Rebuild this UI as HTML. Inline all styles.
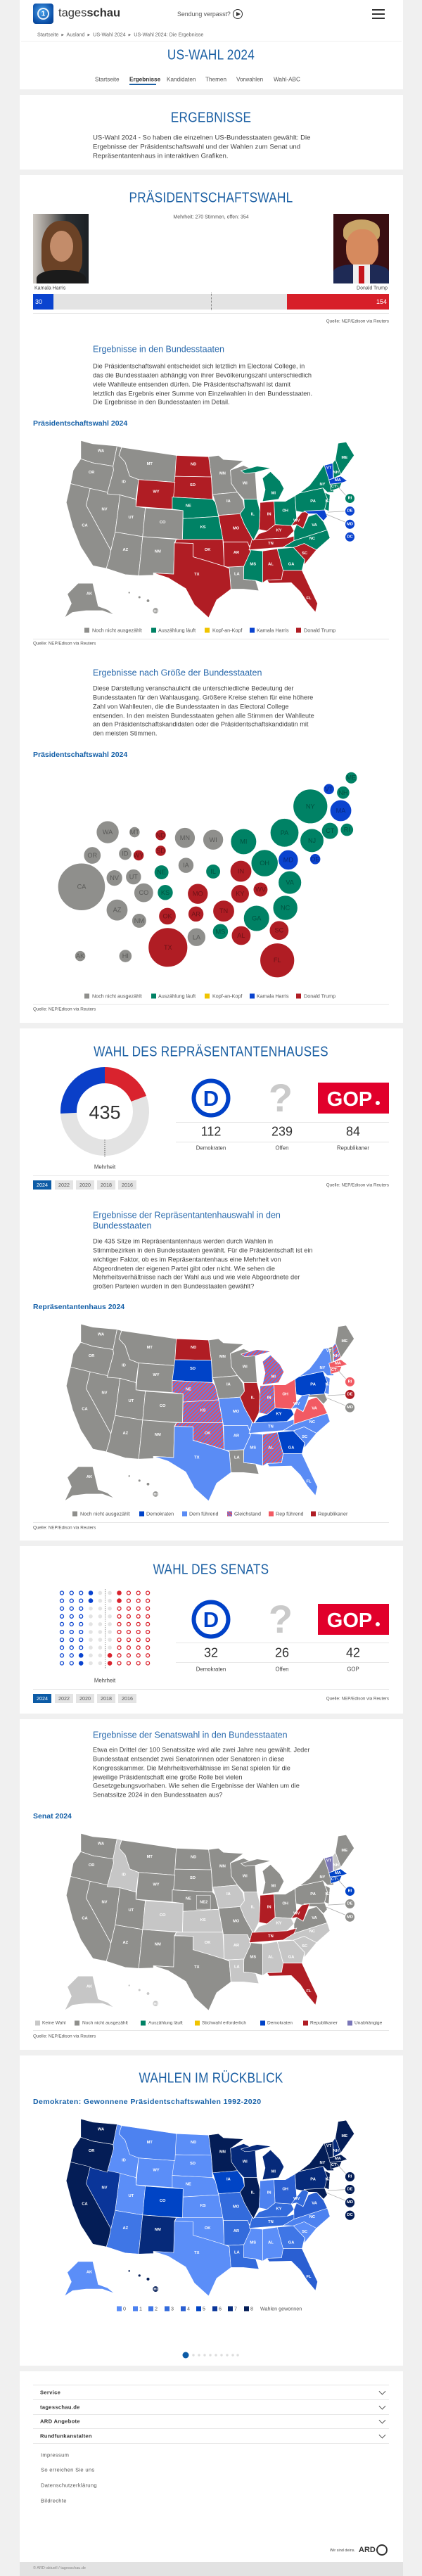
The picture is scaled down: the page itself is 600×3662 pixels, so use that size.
<!DOCTYPE html>
<html><head><meta charset="utf-8">
<style>
*{margin:0;padding:0;box-sizing:border-box}
body{width:600px;height:3662px;background:#f0f0f0;position:relative;font-family:"Liberation Sans",sans-serif;color:#3c3c3c;overflow:hidden}
.card{position:absolute;left:28px;width:545px;background:#fff}
.t{position:absolute;white-space:nowrap;transform:translateY(-50%)}
.c{position:absolute;white-space:nowrap;transform:translate(-50%,-50%)}
.h1{position:absolute;left:300px;white-space:nowrap;transform:translate(-50%,-50%) scaleX(.86);font-size:20px;color:#1b5fa3;letter-spacing:.3px}
.h2{position:absolute;left:132px;font-size:12.5px;color:#2a6aad;white-space:nowrap;line-height:15px;transform:translateY(-7.5px)}
.p{position:absolute;left:132px;font-size:9.2px;line-height:12.85px;white-space:nowrap;color:#444;transform:translateY(-6.4px)}
.sub{position:absolute;left:47px;font-size:10.5px;font-weight:bold;color:#1560a8;white-space:nowrap;transform:translateY(-50%)}
.q{position:absolute;font-size:6.3px;color:#555;white-space:nowrap;transform:translateY(-50%)}
.lg{position:absolute;font-size:7.2px;color:#555;white-space:nowrap;transform:translateY(-50%)}
.sq{position:absolute;width:7px;height:7px;transform:translateY(-50%)}
.hr{position:absolute;height:1px;background:#e6e6e6}
.yb{position:absolute;height:13px;width:26px;font-size:7.2px;line-height:13px;text-align:center;background:#e4e4e4;color:#555}
.yb.on{background:#0c5ba6;color:#fff}
.num{position:absolute;font-size:18px;color:#333;transform:translate(-50%,-50%)}
.nl{position:absolute;font-size:7.8px;color:#444;transform:translate(-50%,-50%);white-space:nowrap}
.fi{position:absolute;left:57px;font-size:7.6px;font-weight:bold;color:#333;transform:translateY(-50%);letter-spacing:.3px}
.fl{position:absolute;left:58px;font-size:7.6px;color:#555;transform:translateY(-50%);letter-spacing:.3px}
.chev{position:absolute;left:540px;width:7px;height:7px;border-right:1px solid #555;border-bottom:1px solid #555;transform:translateY(-70%) rotate(45deg)}
</style></head><body>

<div class="card" style="top:0;height:127px"></div>
<div class="card" style="top:135px;height:106px"></div>
<div class="card" style="top:249px;height:1205px"></div>
<div class="card" style="top:1462px;height:728px"></div>
<div class="card" style="top:2198px;height:238px"></div>
<div class="card" style="top:2444px;height:470px"></div>
<div class="card" style="top:2922px;height:441px"></div>
<div class="card" style="top:3371px;height:271px"></div>
<div class="card" style="top:3642px;height:20px;background:#e2e2e2"></div>

<!-- header -->
<div style="position:absolute;left:47px;top:5px;width:29px;height:29px;border-radius:4px;background:radial-gradient(circle at 45% 40%,#4aa3ec,#0b4ea6 70%,#083b86)"></div>
<div style="position:absolute;left:53px;top:11px;width:17px;height:17px;border-radius:50%;border:2px solid #fff;opacity:.9"></div>
<div class="c" style="left:61.5px;top:19.5px;font-size:10px;font-weight:bold;color:#fff">1</div>
<div class="t" style="left:83px;top:19px;font-size:16.5px;color:#333">tages<b>schau</b></div>
<div class="t" style="left:252px;top:19.5px;font-size:8.8px;color:#555">Sendung verpasst?</div>
<div style="position:absolute;left:331px;top:13px;width:14px;height:14px;border-radius:50%;border:1.2px solid #333"></div>
<div style="position:absolute;left:336px;top:16.5px;width:0;height:0;border-left:6px solid #333;border-top:3.5px solid transparent;border-bottom:3.5px solid transparent"></div>
<div style="position:absolute;left:529px;top:13px;width:18px;height:2px;background:#333"></div>
<div style="position:absolute;left:529px;top:19px;width:18px;height:2px;background:#333"></div>
<div style="position:absolute;left:529px;top:25px;width:18px;height:2px;background:#333"></div>
<div class="t" style="left:53px;top:49px;font-size:7.2px;color:#666">Startseite &nbsp;▸&nbsp; Ausland &nbsp;▸&nbsp; US-Wahl 2024 &nbsp;▸&nbsp; US-Wahl 2024: Die Ergebnisse</div>
<div class="hr" style="left:30px;width:541px;top:58px;background:#f0f0f0"></div>
<div class="h1" style="top:79px">US-WAHL 2024</div>
<div class="t" style="left:135px;top:113px;font-size:8.2px;color:#555">Startseite</div>
<div class="t" style="left:184px;top:113px;font-size:8.2px;color:#333;font-weight:bold">Ergebnisse</div>
<div class="t" style="left:237px;top:113px;font-size:8.2px;color:#555">Kandidaten</div>
<div class="t" style="left:292px;top:113px;font-size:8.2px;color:#555">Themen</div>
<div class="t" style="left:336px;top:113px;font-size:8.2px;color:#555">Vorwahlen</div>
<div class="t" style="left:389px;top:113px;font-size:8.2px;color:#555">Wahl-ABC</div>
<div style="position:absolute;left:184px;top:119px;width:38px;height:1.5px;background:#1b5fa3"></div>

<!-- ergebnisse -->
<div class="h1" style="top:168px">ERGEBNISSE</div>
<div class="p" style="top:197px;font-size:9.6px">US-Wahl 2024 - So haben die einzelnen US-Bundesstaaten gewählt: Die<br>Ergebnisse der Präsidentschaftswahl und der Wahlen zum Senat und<br>Repräsentantenhaus in interaktiven Grafiken.</div>

<!-- president -->
<div class="h1" style="top:282px">PRÄSIDENTSCHAFTSWAHL</div>
<div class="c" style="left:300px;top:309px;font-size:7px;color:#555">Mehrheit: 270 Stimmen, offen: 354</div>
<div style="position:absolute;left:47px;top:304px;width:79px;height:99px;background:linear-gradient(90deg,#cfcac4 0%,#8a8580 30%,#2a2f33 60%,#1c2024 100%);overflow:hidden">
 <div style="position:absolute;left:12px;top:10px;width:58px;height:80px;border-radius:45% 45% 30% 30%;background:#6b4226"></div>
 <div style="position:absolute;left:24px;top:24px;width:33px;height:44px;border-radius:50%;background:#c38c6a"></div>
 <div style="position:absolute;left:5px;top:80px;width:70px;height:30px;border-radius:40% 40% 0 0;background:#1b1b1b"></div>
</div>
<div style="position:absolute;left:474px;top:304px;width:79px;height:99px;background:#3a0f12;overflow:hidden">
 <div style="position:absolute;left:14px;top:8px;width:52px;height:32px;border-radius:50% 50% 30% 30%;background:#c9a467"></div>
 <div style="position:absolute;left:18px;top:22px;width:46px;height:54px;border-radius:45%;background:#d68a5e"></div>
 <div style="position:absolute;left:0;top:72px;width:79px;height:30px;border-radius:35% 35% 0 0;background:#1e2a55"></div>
 <div style="position:absolute;left:28px;top:72px;width:24px;height:30px;background:#eee"></div>
 <div style="position:absolute;left:36px;top:74px;width:8px;height:26px;background:#c4161c"></div>
</div>
<div class="t" style="left:49px;top:410px;font-size:7px;color:#444">Kamala Harris</div>
<div class="t" style="right:49px;top:410px;font-size:7px;color:#444">Donald Trump</div>
<div style="position:absolute;left:47px;top:418px;width:506px;height:22px;background:#e3e3e3"></div>
<div style="position:absolute;left:47px;top:418px;width:29px;height:22px;background:#0a43cf"></div>
<div style="position:absolute;left:408px;top:418px;width:145px;height:22px;background:#d71f29"></div>
<div class="t" style="left:50px;top:429px;font-size:9px;color:#fff">30</div>
<div class="t" style="right:50px;top:429px;font-size:9px;color:#fff">154</div>
<div style="position:absolute;left:299.5px;top:416px;height:25px;border-left:1px dotted #777"></div>
<div class="hr" style="left:47px;width:506px;top:445px"></div>
<div class="q" style="right:47px;top:457px">Quelle: NEP/Edison via Reuters</div>

<div class="h2" style="top:497px">Ergebnisse in den Bundesstaaten</div>
<div class="p" style="top:521px">Die Präsidentschaftswahl entscheidet sich letztlich im Electoral College, in<br>das die Bundesstaaten abhängig von ihrer Bevölkerungszahl unterschiedlich<br>viele Wahlleute entsenden dürfen. Die Präsidentschaftswahl ist damit<br>letztlich das Ergebnis einer Summe von Einzelwahlen in den Bundesstaaten.<br>Die Ergebnisse in den Bundesstaaten im Detail.</div>
<div class="sub" style="top:602px">Präsidentschaftswahl 2024</div>

<div class="sq" style="left:120px;top:896px;background:#8f8f8c"></div><div class="lg" style="left:131px;top:896px">Noch nicht ausgezählt</div>
<div class="sq" style="left:215px;top:896px;background:#008265"></div><div class="lg" style="left:225px;top:896px">Auszählung läuft</div>
<div class="sq" style="left:291px;top:896px;background:#f0c400"></div><div class="lg" style="left:302px;top:896px">Kopf-an-Kopf</div>
<div class="sq" style="left:355px;top:896px;background:#0a43cf"></div><div class="lg" style="left:365px;top:896px">Kamala Harris</div>
<div class="sq" style="left:421px;top:896px;background:#b01d24"></div><div class="lg" style="left:432px;top:896px">Donald Trump</div>
<div class="hr" style="left:47px;width:506px;top:908px"></div>
<div class="q" style="left:47px;top:915px">Quelle: NEP/Edison via Reuters</div>

<div class="h2" style="top:957px">Ergebnisse nach Größe der Bundesstaaten</div>
<div class="p" style="top:979px">Diese Darstellung veranschaulicht die unterschiedliche Bedeutung der<br>Bundesstaaten für den Wahlausgang. Größere Kreise stehen für eine höhere<br>Zahl von Wahlleuten, die die Bundesstaaten in das Electoral College<br>entsenden. In den meisten Bundesstaaten gehen alle Stimmen der Wahlleute<br>an den Präsidentschaftskandidaten oder die Präsidentschaftskandidatin mit<br>den meisten Stimmen.</div>
<div class="sub" style="top:1073px">Präsidentschaftswahl 2024</div>

<div class="sq" style="left:120px;top:1416px;background:#8f8f8c"></div><div class="lg" style="left:131px;top:1416px">Noch nicht ausgezählt</div>
<div class="sq" style="left:215px;top:1416px;background:#008265"></div><div class="lg" style="left:225px;top:1416px">Auszählung läuft</div>
<div class="sq" style="left:291px;top:1416px;background:#f0c400"></div><div class="lg" style="left:302px;top:1416px">Kopf-an-Kopf</div>
<div class="sq" style="left:355px;top:1416px;background:#0a43cf"></div><div class="lg" style="left:365px;top:1416px">Kamala Harris</div>
<div class="sq" style="left:421px;top:1416px;background:#b01d24"></div><div class="lg" style="left:432px;top:1416px">Donald Trump</div>
<div class="hr" style="left:47px;width:506px;top:1427px"></div>
<div class="q" style="left:47px;top:1435px">Quelle: NEP/Edison via Reuters</div>

<!-- house -->
<div class="h1" style="top:1496px">WAHL DES REPRÄSENTANTENHAUSES</div>
<div class="c" style="left:149px;top:1582px;font-size:27px;color:#333">435</div>
<div class="hr" style="left:250px;width:303px;top:1595px"></div>
<div class="hr" style="left:250px;width:303px;top:1623px"></div>
<div class="num" style="left:300px;top:1609px">112</div>
<div class="num" style="left:401px;top:1609px">239</div>
<div class="num" style="left:502px;top:1609px">84</div>
<div class="nl" style="left:300px;top:1632px">Demokraten</div>
<div class="nl" style="left:401px;top:1632px">Offen</div>
<div class="nl" style="left:502px;top:1632px">Republikaner</div>
<div class="nl" style="left:149px;top:1659px">Mehrheit</div>
<div class="hr" style="left:47px;width:506px;top:1671px"></div>
<div class="yb on" style="left:47px;top:1678px">2024</div><div class="yb" style="left:78px;top:1678px">2022</div><div class="yb" style="left:108px;top:1678px">2020</div><div class="yb" style="left:138px;top:1678px">2018</div><div class="yb" style="left:168px;top:1678px">2016</div>
<div class="q" style="right:47px;top:1685px">Quelle: NEP/Edison via Reuters</div>

<div class="h2" style="top:1728px">Ergebnisse der Repräsentantenhauswahl in den<br>Bundesstaaten</div>
<div class="p" style="top:1765px">Die 435 Sitze im Repräsentantenhaus werden durch Wahlen in<br>Stimmbezirken in den Bundesstaaten gewählt. Für die Präsidentschaft ist ein<br>wichtiger Faktor, ob es im Repräsentantenhaus eine Mehrheit von<br>Abgeordneten der eigenen Partei gibt oder nicht. Wie sehen die<br>Mehrheitsverhältnisse nach der Wahl aus und wie viele Abgeordnete der<br>großen Parteien wurden in den Bundesstaaten gewählt?</div>
<div class="sub" style="top:1858px">Repräsentantenhaus 2024</div>
<div class="sq" style="left:103px;top:2152px;background:#8f8f8c"></div><div class="lg" style="left:114px;top:2152px">Noch nicht ausgezählt</div>
<div class="sq" style="left:198px;top:2152px;background:#0043c8"></div><div class="lg" style="left:208px;top:2152px">Demokraten</div>
<div class="sq" style="left:259px;top:2152px;background:#5a8cf5"></div><div class="lg" style="left:269px;top:2152px">Dem führend</div>
<div class="sq" style="left:323px;top:2152px;background:repeating-linear-gradient(45deg,#e8505a 0 1.5px,#5a7ff0 1.5px 3px)"></div><div class="lg" style="left:333px;top:2152px">Gleichstand</div>
<div class="sq" style="left:382px;top:2152px;background:#f25a63"></div><div class="lg" style="left:392px;top:2152px">Rep führend</div>
<div class="sq" style="left:442px;top:2152px;background:#b01d24"></div><div class="lg" style="left:452px;top:2152px">Republikaner</div>
<div class="hr" style="left:47px;width:506px;top:2164px"></div>
<div class="q" style="left:47px;top:2172px">Quelle: NEP/Edison via Reuters</div>

<!-- senate -->
<div class="h1" style="top:2232px">WAHL DES SENATS</div>
<div class="hr" style="left:250px;width:303px;top:2335px"></div>
<div class="hr" style="left:250px;width:303px;top:2363px"></div>
<div class="num" style="left:300px;top:2350px">32</div>
<div class="num" style="left:401px;top:2350px">26</div>
<div class="num" style="left:502px;top:2350px">42</div>
<div class="nl" style="left:300px;top:2373px">Demokraten</div>
<div class="nl" style="left:401px;top:2373px">Offen</div>
<div class="nl" style="left:502px;top:2373px">GOP</div>
<div class="nl" style="left:149px;top:2389px">Mehrheit</div>
<div class="hr" style="left:47px;width:506px;top:2401px"></div>
<div class="yb on" style="left:47px;top:2408px">2024</div><div class="yb" style="left:78px;top:2408px">2022</div><div class="yb" style="left:108px;top:2408px">2020</div><div class="yb" style="left:138px;top:2408px">2018</div><div class="yb" style="left:168px;top:2408px">2016</div>
<div class="q" style="right:47px;top:2415px">Quelle: NEP/Edison via Reuters</div>

<div class="h2" style="top:2467px">Ergebnisse der Senatswahl in den Bundesstaaten</div>
<div class="p" style="top:2488px">Etwa ein Drittel der 100 Senatssitze wird alle zwei Jahre neu gewählt. Jeder<br>Bundesstaat entsendet zwei Senatorinnen oder Senatoren in diese<br>Kongresskammer. Die Mehrheitsverhältnisse im Senat spielen für die<br>jeweilige Präsidentschaft eine große Rolle bei vielen<br>Gesetzgebungsvorhaben. Wie sehen die Ergebnisse der Wahlen um die<br>Senatssitze 2024 in den Bundesstaaten aus?</div>
<div class="sub" style="top:2582px">Senat 2024</div>
<div class="sq" style="left:50px;top:2876px;background:#c8c8c8"></div><div class="lg" style="left:60px;top:2876px;font-size:6.6px">Keine Wahl</div>
<div class="sq" style="left:106px;top:2876px;background:#8f8f8c"></div><div class="lg" style="left:117px;top:2876px;font-size:6.6px">Noch nicht ausgezählt</div>
<div class="sq" style="left:200px;top:2876px;background:#008265"></div><div class="lg" style="left:211px;top:2876px;font-size:6.6px">Auszählung läuft</div>
<div class="sq" style="left:277px;top:2876px;background:#f0c400"></div><div class="lg" style="left:287px;top:2876px;font-size:6.6px">Stichwahl erforderlich</div>
<div class="sq" style="left:370px;top:2876px;background:#0043c8"></div><div class="lg" style="left:380px;top:2876px;font-size:6.6px">Demokraten</div>
<div class="sq" style="left:431px;top:2876px;background:#b01d24"></div><div class="lg" style="left:441px;top:2876px;font-size:6.6px">Republikaner</div>
<div class="sq" style="left:494px;top:2876px;background:#7a76b8"></div><div class="lg" style="left:504px;top:2876px;font-size:6.6px">Unabhängige</div>
<div class="hr" style="left:47px;width:506px;top:2886px"></div>
<div class="q" style="left:47px;top:2895px">Quelle: NEP/Edison via Reuters</div>

<!-- retro -->
<div class="h1" style="top:2955px">WAHLEN IM RÜCKBLICK</div>
<div class="sub" style="top:2988px;letter-spacing:.4px">Demokraten: Gewonnene Präsidentschaftswahlen 1992-2020</div>
<div class="sq" style="left:166px;top:3282px;background:#5b8ef8"></div><div class="lg" style="left:175px;top:3282px">0</div>
<div class="sq" style="left:189px;top:3282px;background:#4d82f0"></div><div class="lg" style="left:198px;top:3282px">1</div>
<div class="sq" style="left:211px;top:3282px;background:#3f76e6"></div><div class="lg" style="left:220px;top:3282px">2</div>
<div class="sq" style="left:234px;top:3282px;background:#336bdc"></div><div class="lg" style="left:243px;top:3282px">3</div>
<div class="sq" style="left:257px;top:3282px;background:#2a5fd2"></div><div class="lg" style="left:266px;top:3282px">4</div>
<div class="sq" style="left:279px;top:3282px;background:#0044c5"></div><div class="lg" style="left:288px;top:3282px">5</div>
<div class="sq" style="left:302px;top:3282px;background:#0a3599"></div><div class="lg" style="left:311px;top:3282px">6</div>
<div class="sq" style="left:324px;top:3282px;background:#062a7a"></div><div class="lg" style="left:333px;top:3282px">7</div>
<div class="sq" style="left:347px;top:3282px;background:#041d56"></div><div class="lg" style="left:356px;top:3282px">8</div>
<div class="lg" style="left:370px;top:3282px">Wahlen gewonnen</div>

<!-- footer -->
<div class="hr" style="left:47px;width:506px;top:3390px"></div>
<div class="hr" style="left:47px;width:506px;top:3411px"></div>
<div class="hr" style="left:47px;width:506px;top:3432px"></div>
<div class="hr" style="left:47px;width:506px;top:3452px"></div>
<div class="hr" style="left:47px;width:506px;top:3473px"></div>
<div class="fi" style="top:3401px">Service</div><div class="chev" style="top:3401px"></div>
<div class="fi" style="top:3422px">tagesschau.de</div><div class="chev" style="top:3422px"></div>
<div class="fi" style="top:3442px">ARD Angebote</div><div class="chev" style="top:3442px"></div>
<div class="fi" style="top:3463px">Rundfunkanstalten</div><div class="chev" style="top:3463px"></div>
<div class="fl" style="top:3490px">Impressum</div>
<div class="fl" style="top:3511px">So erreichen Sie uns</div>
<div class="fl" style="top:3533px">Datenschutzerklärung</div>
<div class="fl" style="top:3555px">Bildrechte</div>
<div class="t" style="left:469px;top:3626px;font-size:5.5px;color:#444">Wir sind deins.</div>
<div class="t" style="left:510px;top:3625px;font-size:11px;font-weight:bold;color:#333">ARD</div>
<div style="position:absolute;left:535px;top:3617px;width:16px;height:16px;border-radius:50%;border:2px solid #333"></div>
<div class="t" style="left:47px;top:3651px;font-size:5.5px;color:#888">© ARD-aktuell / tagesschau.de</div>

<svg width="600" height="3662" style="position:absolute;left:0;top:0" xmlns="http://www.w3.org/2000/svg" xmlns:xlink="http://www.w3.org/1999/xlink">
<defs>
<pattern id="hatch" patternUnits="userSpaceOnUse" width="10" height="10" patternTransform="rotate(45)">
<rect width="10" height="10" fill="#5a7ff0"/><rect width="5" height="10" fill="#e8505a"/></pattern>
<polygon id="WA" points="300,330 345,342 435,350 420,425 345,413 300,398"/>
<polygon id="OR" points="300,398 345,413 420,425 422,440 398,528 262,490 272,440"/>
<polygon id="CA" points="262,490 335,508 320,570 412,738 405,772 395,805 345,795 300,725 270,650 246,560"/>
<polygon id="NV" points="335,508 446,532 428,670 412,738 320,570"/>
<polygon id="ID" points="435,350 452,355 442,385 465,410 482,462 515,475 505,548 446,532 398,528 422,440 420,425"/>
<polygon id="MT" points="452,355 655,385 650,485 515,475 482,462 465,410 442,385"/>
<polygon id="WY" points="515,475 650,485 640,585 505,575"/>
<polygon id="UT" points="446,532 505,548 505,575 540,580 530,687 428,670"/>
<polygon id="CO" points="540,580 680,590 678,697 530,687"/>
<polygon id="AZ" points="428,670 530,687 515,832 465,828 395,805 405,772 412,738"/>
<polygon id="NM" points="530,687 655,697 648,710 645,826 570,822 570,830 515,832"/>
<polygon id="ND" points="655,385 775,390 785,465 650,463"/>
<polygon id="SD" points="650,463 785,465 790,548 640,540"/>
<polygon id="NE" points="640,540 790,548 800,560 812,612 680,620 680,590 640,585"/>
<polygon id="KS" points="680,620 812,612 828,697 678,697"/>
<polygon id="OK" points="655,697 828,697 833,797 772,778 717,762 717,712 650,710"/>
<polygon id="TX" points="648,710 717,712 717,762 772,778 833,797 852,805 858,882 805,922 775,988 722,940 690,880 625,840 570,822 645,826"/>
<polygon id="MN" points="775,390 812,385 830,400 905,405 856,440 860,490 882,522 790,530 785,465"/>
<polygon id="IA" points="790,530 882,522 902,550 908,580 892,602 812,608 800,560"/>
<polygon id="MO" points="812,608 892,602 908,642 935,690 942,716 922,722 920,707 830,707 828,697"/>
<polygon id="AR" points="830,707 920,707 932,740 906,797 846,800 833,797"/>
<polygon id="LA" points="846,800 906,797 905,845 950,850 962,888 905,882 858,882 852,805"/>
<polygon id="WI" points="856,440 905,422 948,442 955,548 906,548 882,522 860,490"/>
<polygon id="IL" points="906,548 955,548 966,592 962,660 942,700 935,690 908,642 892,602 908,580"/>
<g id="MI"><polygon points="975,470 1005,445 1040,480 1055,508 1035,548 975,556 985,512"/><polygon points="895,442 955,425 1008,432 950,448 910,452"/></g>
<polygon id="IN" points="966,560 1018,556 1022,642 992,666 962,660 966,592"/>
<polygon id="OH" points="1018,556 1060,556 1096,535 1102,620 1082,646 1022,642"/>
<polygon id="KY" points="962,676 992,666 1022,642 1082,646 1092,666 1066,692 945,698"/>
<polygon id="TN" points="936,698 1066,692 1102,682 1092,702 1052,726 926,736"/>
<polygon id="MS" points="926,736 976,740 976,858 950,850 905,845 906,797 932,740"/>
<polygon id="AL" points="976,740 1030,732 1052,812 1046,846 992,848 976,858"/>
<polygon id="GA" points="1030,732 1090,727 1132,772 1122,812 1052,812"/>
<polygon id="FL" points="992,848 1046,846 1052,812 1122,812 1150,872 1180,935 1172,968 1142,932 1116,892 1082,858 1000,860"/>
<polygon id="SC" points="1090,727 1130,712 1176,736 1130,792 1132,772"/>
<polygon id="NC" points="1052,726 1092,702 1216,662 1226,692 1176,736 1130,712 1090,727"/>
<polygon id="VA" points="1092,666 1102,642 1126,656 1146,612 1176,602 1202,632 1216,662 1092,702"/>
<polygon id="WV" points="1082,646 1102,620 1122,596 1150,592 1126,656 1102,642"/>
<polygon id="PA" points="1096,535 1112,525 1200,506 1216,546 1206,590 1122,596 1100,592"/>
<polygon id="NY" points="1112,525 1150,496 1176,462 1202,422 1222,420 1236,500 1240,522 1216,522 1200,506"/>
<polygon id="NJ" points="1206,522 1226,532 1222,592 1206,586 1216,546"/>
<polygon id="MD" points="1130,592 1206,588 1216,612 1202,628 1176,602 1146,602"/>
<polygon id="VT" points="1205,422 1236,414 1238,470 1222,476"/>
<polygon id="NH" points="1236,414 1246,400 1266,456 1240,470"/>
<polygon id="ME" points="1246,400 1256,340 1286,335 1316,385 1266,456"/>
<polygon id="MA" points="1222,476 1266,462 1290,480 1270,487 1226,492"/>
<polygon id="CT" points="1226,492 1270,487 1262,506 1230,516"/>
<polygon id="AK" points="290,860 345,860 365,945 400,958 425,978 380,962 320,962 270,968 240,988 265,935 250,900"/>
<g id="HI"><circle cx="480" cy="895" r="4"/><circle cx="518" cy="912" r="5"/><circle cx="550" cy="925" r="6"/><circle cx="578" cy="962" r="11"/></g>
<g id="lines" stroke="#aaa" stroke-width="2" fill="none"><line x1="1250" y1="495" x2="1290" y2="540"/><line x1="1218" y1="596" x2="1290" y2="592"/><line x1="1212" y1="604" x2="1290" y2="636"/></g>
<g id="lbl" font-family="Liberation Sans,sans-serif" font-size="15" font-weight="bold" fill="#fff" text-anchor="middle" dominant-baseline="central" stroke="none">
<text x="375" y="370">WA</text><text x="340" y="450">OR</text><text x="315" y="647">CA</text><text x="388" y="587">NV</text><text x="460" y="485">ID</text><text x="556" y="418">MT</text><text x="580" y="521">WY</text><text x="487" y="617">UT</text><text x="604" y="635">CO</text><text x="466" y="737">AZ</text><text x="586" y="743">NM</text><text x="719" y="419">ND</text><text x="716" y="497">SD</text><text x="700" y="574">NE</text><text x="754" y="653">KS</text><text x="771" y="737">OK</text><text x="731" y="828">TX</text><text x="827" y="453">MN</text><text x="849" y="556">IA</text><text x="877" y="657">MO</text><text x="878" y="747">AR</text><text x="880" y="827">LA</text><text x="910" y="490">WI</text><text x="939" y="605">IL</text><text x="1016" y="527">MI</text><text x="1000" y="605">IN</text><text x="1060" y="592">OH</text><text x="1036" y="665">KY</text><text x="1006" y="713">TN</text><text x="940" y="791">MS</text><text x="1006" y="791">AL</text><text x="1082" y="791">GA</text><text x="1147" y="917">FL</text><text x="1132" y="750">SC</text><text x="1160" y="695">NC</text><text x="1168" y="645">VA</text><text x="1102" y="628">WV</text><text x="1163" y="556">PA</text><text x="1198" y="494">NY</text><text x="1218" y="556">NJ</text><text x="1222" y="432">VT</text><text x="1248" y="450">NH</text><text x="1280" y="395">ME</text><text x="1255" y="478">MA</text><text x="1240" y="502">CT</text><text x="332" y="900">AK</text><text x="578" y="965">HI</text>
</g>
</defs>

<!-- map 1 -->
<g transform="translate(0,500) scale(0.3827)" stroke="#fff" stroke-width="2">
<g fill="#8f8f8c"><use xlink:href="#WA"/><use xlink:href="#OR"/><use xlink:href="#CA"/><use xlink:href="#NV"/><use xlink:href="#ID"/><use xlink:href="#MT"/><use xlink:href="#UT"/><use xlink:href="#CO"/><use xlink:href="#AZ"/><use xlink:href="#NM"/><use xlink:href="#MN"/><use xlink:href="#IA"/><use xlink:href="#WI"/><use xlink:href="#LA"/><use xlink:href="#AK"/><use xlink:href="#HI"/></g>
<g fill="#b01d24"><use xlink:href="#ND"/><use xlink:href="#SD"/><use xlink:href="#WY"/><use xlink:href="#MO"/><use xlink:href="#OK"/><use xlink:href="#TX"/><use xlink:href="#AR"/><use xlink:href="#IN"/><use xlink:href="#KY"/><use xlink:href="#WV"/><use xlink:href="#TN"/><use xlink:href="#AL"/><use xlink:href="#SC"/><use xlink:href="#FL"/></g>
<g fill="#008265"><use xlink:href="#NE"/><use xlink:href="#KS"/><use xlink:href="#IL"/><use xlink:href="#MI"/><use xlink:href="#OH"/><use xlink:href="#PA"/><use xlink:href="#NY"/><use xlink:href="#NJ"/><use xlink:href="#VA"/><use xlink:href="#NC"/><use xlink:href="#MS"/><use xlink:href="#GA"/><use xlink:href="#CT"/><use xlink:href="#NH"/><use xlink:href="#ME"/></g>
<g fill="#0a43cf"><use xlink:href="#VT"/><use xlink:href="#MA"/><use xlink:href="#MD"/></g>
<use xlink:href="#lines"/>
<circle cx="1300" cy="545" r="18" fill="#008265"/><circle cx="1300" cy="592" r="18" fill="#0a43cf"/><circle cx="1300" cy="641" r="18" fill="#0a43cf"/><circle cx="1300" cy="688" r="18" fill="#0a43cf"/>
<use xlink:href="#lbl"/>
<g font-family="Liberation Sans,sans-serif" font-size="15" font-weight="bold" fill="#fff" stroke="none" text-anchor="middle" dominant-baseline="central"><text x="1300" y="545">RI</text><text x="1300" y="592">DE</text><text x="1300" y="641">MD</text><text x="1300" y="688">DC</text></g>
</g>

<!-- bubbles -->
<g transform="translate(0,1100) scale(0.3827)" font-family="Liberation Sans,sans-serif" font-size="24" text-anchor="middle" dominant-baseline="central">
<g stroke="#fff" stroke-width="2">
<g fill="#8f8f8c"><circle cx="400" cy="217" r="42"/><circle cx="500" cy="217" r="20"/><circle cx="687" cy="238" r="38"/><circle cx="792" cy="245" r="38"/><circle cx="343" cy="303" r="32"/><circle cx="465" cy="297" r="24"/><circle cx="691" cy="340" r="29"/><circle cx="303" cy="420" r="88"/><circle cx="425" cy="387" r="30"/><circle cx="496" cy="383" r="29"/><circle cx="534" cy="442" r="36"/><circle cx="435" cy="506" r="40"/><circle cx="517" cy="546" r="27"/><circle cx="730" cy="607" r="34"/><circle cx="298" cy="677" r="20"/><circle cx="466" cy="677" r="24"/></g>
<g fill="#008265"><circle cx="1305" cy="15" r="22"/><circle cx="1275" cy="70" r="24"/><circle cx="1153" cy="121" r="64"/><circle cx="905" cy="252" r="48"/><circle cx="1057" cy="219" r="53"/><circle cx="1159" cy="248" r="44"/><circle cx="1226" cy="212" r="31"/><circle cx="1289" cy="208" r="24"/><circle cx="983" cy="332" r="50"/><circle cx="600" cy="366" r="27"/><circle cx="792" cy="363" r="27"/><circle cx="1077" cy="404" r="43"/><circle cx="614" cy="441" r="29"/><circle cx="953" cy="537" r="48"/><circle cx="1060" cy="498" r="46"/><circle cx="819" cy="586" r="29"/></g>
<g fill="#b01d24"><circle cx="597" cy="228" r="20"/><circle cx="515" cy="303" r="20"/><circle cx="597" cy="286" r="20"/><circle cx="895" cy="362" r="40"/><circle cx="735" cy="446" r="38"/><circle cx="892" cy="446" r="34"/><circle cx="968" cy="430" r="27"/><circle cx="622" cy="529" r="32"/><circle cx="728" cy="521" r="29"/><circle cx="831" cy="510" r="40"/><circle cx="1037" cy="582" r="36"/><circle cx="896" cy="601" r="36"/><circle cx="624" cy="645" r="73"/><circle cx="1030" cy="693" r="64"/></g>
<g fill="#0a43cf"><circle cx="1222" cy="57" r="20"/><circle cx="1266" cy="137" r="40"/><circle cx="1071" cy="320" r="37"/><circle cx="1171" cy="317" r="20"/></g>
</g>
<g fill="#000" opacity=".38">
<text x="1305" y="15">ME</text><text x="1222" y="57">VT</text><text x="1275" y="70">NH</text><text x="1153" y="121">NY</text><text x="1266" y="137">MA</text><text x="400" y="217">WA</text><text x="500" y="217">MT</text><text x="597" y="228">ND</text><text x="687" y="238">MN</text><text x="792" y="245">WI</text><text x="905" y="252">MI</text><text x="1057" y="219">PA</text><text x="1159" y="248">NJ</text><text x="1226" y="212">CT</text><text x="1289" y="208">RI</text><text x="343" y="303">OR</text><text x="465" y="297">ID</text><text x="515" y="303">WY</text><text x="597" y="286">SD</text><text x="691" y="340">IA</text><text x="983" y="332">OH</text><text x="1071" y="320">MD</text><text x="1171" y="317">DE</text><text x="303" y="420">CA</text><text x="425" y="387">NV</text><text x="496" y="383">UT</text><text x="600" y="366">NE</text><text x="792" y="363">IL</text><text x="895" y="362">IN</text><text x="1077" y="404">VA</text><text x="534" y="442">CO</text><text x="614" y="441">KS</text><text x="735" y="446">MO</text><text x="892" y="446">KY</text><text x="968" y="430">WV</text><text x="435" y="506">AZ</text><text x="517" y="546">NM</text><text x="622" y="529">OK</text><text x="728" y="521">AR</text><text x="831" y="510">TN</text><text x="953" y="537">GA</text><text x="1060" y="498">NC</text><text x="1037" y="582">SC</text><text x="819" y="586">MS</text><text x="896" y="601">AL</text><text x="730" y="607">LA</text><text x="624" y="645">TX</text><text x="1030" y="693">FL</text><text x="298" y="677">AK</text><text x="466" y="677">HI</text>
</g></g>

<!-- donut -->
<g fill="none" stroke-width="23">
<path d="M149,1528.5 A51.5,51.5 0 0 1 197.24,1561.97" stroke="#d9232e"/>
<path d="M197.24,1561.97 A51.5,51.5 0 1 1 97.56,1582.43" stroke="#e3e3e3"/>
<path d="M97.56,1582.43 A51.5,51.5 0 0 1 149,1528.5" stroke="#0a3fc8"/>
</g>
<line x1="149" y1="1620" x2="149" y2="1645" stroke="#555" stroke-dasharray="1.5,1.5"/>

<!-- party logos house -->
<circle cx="300" cy="1561" r="24.5" fill="none" stroke="#0041c8" stroke-width="6"/>
<text x="300" y="1572" font-family="Liberation Sans,sans-serif" font-weight="bold" font-size="31" fill="#0041c8" text-anchor="middle">D</text>
<text x="399" y="1580" font-family="Liberation Sans,sans-serif" font-weight="bold" font-size="56" fill="#cacaca" text-anchor="middle">?</text>
<rect x="452" y="1539" width="101" height="44" fill="#e1002b"/>
<text x="497" y="1572" font-family="Liberation Sans,sans-serif" font-weight="bold" font-size="29" fill="#fff" text-anchor="middle">GOP</text>
<circle cx="537" cy="1568" r="3" fill="#fff"/>

<!-- map 2 house -->
<g transform="translate(0,1755.8) scale(0.3827)" stroke="#fff" stroke-width="2">
<g fill="#8f8f8c"><use xlink:href="#WA"/><use xlink:href="#OR"/><use xlink:href="#CA"/><use xlink:href="#NV"/><use xlink:href="#ID"/><use xlink:href="#MT"/><use xlink:href="#WY"/><use xlink:href="#UT"/><use xlink:href="#CO"/><use xlink:href="#AZ"/><use xlink:href="#NM"/><use xlink:href="#MN"/><use xlink:href="#WI"/><use xlink:href="#IA"/><use xlink:href="#LA"/><use xlink:href="#AK"/><use xlink:href="#HI"/><use xlink:href="#VT"/><use xlink:href="#ME"/><use xlink:href="#MD"/></g>
<g fill="#b01d24"><use xlink:href="#ND"/><use xlink:href="#IL"/></g>
<g fill="#0043c8"><use xlink:href="#SD"/><use xlink:href="#PA"/><use xlink:href="#KY"/><use xlink:href="#GA"/></g>
<g fill="#5a8cf5"><use xlink:href="#MO"/><use xlink:href="#AR"/><use xlink:href="#TX"/><use xlink:href="#MS"/><use xlink:href="#FL"/><use xlink:href="#SC"/><use xlink:href="#NC"/><use xlink:href="#TN"/><use xlink:href="#NY"/><use xlink:href="#NJ"/><use xlink:href="#WV"/></g>
<g fill="url(#hatch)"><use xlink:href="#NE"/><use xlink:href="#KS"/><use xlink:href="#OK"/><use xlink:href="#MI"/><use xlink:href="#IN"/><use xlink:href="#AL"/><use xlink:href="#NH"/></g>
<g fill="#f25a63"><use xlink:href="#OH"/><use xlink:href="#VA"/><use xlink:href="#MA"/><use xlink:href="#CT"/></g>
<use xlink:href="#lines"/>
<circle cx="1300" cy="545" r="18" fill="#f25a63"/><circle cx="1300" cy="592" r="18" fill="#b01d24"/><circle cx="1300" cy="641" r="18" fill="#8f8f8c"/>
<use xlink:href="#lbl"/>
<g font-family="Liberation Sans,sans-serif" font-size="15" font-weight="bold" fill="#fff" stroke="none" text-anchor="middle" dominant-baseline="central"><text x="1300" y="545">RI</text><text x="1300" y="592">DE</text><text x="1300" y="641">MD</text></g>
</g>

<!-- senate dots -->
<g id="dots">
<g fill="none" stroke="#0a43cf" stroke-width="1.3">
<circle cx="88" cy="2264.5" r="2.5"/><circle cx="88" cy="2275.6" r="2.5"/><circle cx="88" cy="2286.7" r="2.5"/><circle cx="88" cy="2297.8" r="2.5"/><circle cx="88" cy="2308.9" r="2.5"/><circle cx="88" cy="2320" r="2.5"/><circle cx="88" cy="2331.1" r="2.5"/><circle cx="88" cy="2342.2" r="2.5"/><circle cx="88" cy="2353.3" r="2.5"/><circle cx="88" cy="2364.4" r="2.5"/>
<circle cx="101.8" cy="2264.5" r="2.5"/><circle cx="101.8" cy="2275.6" r="2.5"/><circle cx="101.8" cy="2286.7" r="2.5"/><circle cx="101.8" cy="2297.8" r="2.5"/><circle cx="101.8" cy="2308.9" r="2.5"/><circle cx="101.8" cy="2320" r="2.5"/><circle cx="101.8" cy="2331.1" r="2.5"/><circle cx="101.8" cy="2342.2" r="2.5"/><circle cx="101.8" cy="2353.3" r="2.5"/><circle cx="101.8" cy="2364.4" r="2.5"/>
<circle cx="115.2" cy="2264.5" r="2.5"/><circle cx="115.2" cy="2275.6" r="2.5"/><circle cx="115.2" cy="2286.7" r="2.5"/><circle cx="115.2" cy="2297.8" r="2.5"/><circle cx="115.2" cy="2308.9" r="2.5"/><circle cx="115.2" cy="2320" r="2.5"/><circle cx="115.2" cy="2331.1" r="2.5"/><circle cx="115.2" cy="2342.2" r="2.5"/>
</g>
<g fill="#0a43cf"><circle cx="115.2" cy="2353.3" r="3.3"/><circle cx="115.2" cy="2364.4" r="3.3"/><circle cx="129" cy="2264.5" r="3.3"/><circle cx="129" cy="2275.6" r="3.3"/></g>
<g fill="#e3e3e3">
<circle cx="129" cy="2286.7" r="2.8"/><circle cx="129" cy="2297.8" r="2.8"/><circle cx="129" cy="2308.9" r="2.8"/><circle cx="129" cy="2320" r="2.8"/><circle cx="129" cy="2331.1" r="2.8"/><circle cx="129" cy="2342.2" r="2.8"/><circle cx="129" cy="2353.3" r="2.8"/><circle cx="129" cy="2364.4" r="2.8"/>
<circle cx="142.4" cy="2264.5" r="2.8"/><circle cx="142.4" cy="2275.6" r="2.8"/><circle cx="142.4" cy="2286.7" r="2.8"/><circle cx="142.4" cy="2297.8" r="2.8"/><circle cx="142.4" cy="2308.9" r="2.8"/><circle cx="142.4" cy="2320" r="2.8"/><circle cx="142.4" cy="2331.1" r="2.8"/><circle cx="142.4" cy="2342.2" r="2.8"/><circle cx="142.4" cy="2353.3" r="2.8"/><circle cx="142.4" cy="2364.4" r="2.8"/>
<circle cx="156.1" cy="2264.5" r="2.8"/><circle cx="156.1" cy="2275.6" r="2.8"/><circle cx="156.1" cy="2286.7" r="2.8"/><circle cx="156.1" cy="2297.8" r="2.8"/><circle cx="156.1" cy="2308.9" r="2.8"/><circle cx="156.1" cy="2320" r="2.8"/><circle cx="156.1" cy="2331.1" r="2.8"/><circle cx="156.1" cy="2342.2" r="2.8"/>
</g>
<g fill="#d9232e"><circle cx="156.1" cy="2353.3" r="3.3"/><circle cx="156.1" cy="2364.4" r="3.3"/><circle cx="169.5" cy="2264.5" r="3.3"/><circle cx="169.5" cy="2275.6" r="3.3"/></g>
<g fill="none" stroke="#d9232e" stroke-width="1.3">
<circle cx="169.5" cy="2286.7" r="2.5"/><circle cx="169.5" cy="2297.8" r="2.5"/><circle cx="169.5" cy="2308.9" r="2.5"/><circle cx="169.5" cy="2320" r="2.5"/><circle cx="169.5" cy="2331.1" r="2.5"/><circle cx="169.5" cy="2342.2" r="2.5"/><circle cx="169.5" cy="2353.3" r="2.5"/><circle cx="169.5" cy="2364.4" r="2.5"/>
<circle cx="182.9" cy="2264.5" r="2.5"/><circle cx="182.9" cy="2275.6" r="2.5"/><circle cx="182.9" cy="2286.7" r="2.5"/><circle cx="182.9" cy="2297.8" r="2.5"/><circle cx="182.9" cy="2308.9" r="2.5"/><circle cx="182.9" cy="2320" r="2.5"/><circle cx="182.9" cy="2331.1" r="2.5"/><circle cx="182.9" cy="2342.2" r="2.5"/><circle cx="182.9" cy="2353.3" r="2.5"/><circle cx="182.9" cy="2364.4" r="2.5"/>
<circle cx="196.7" cy="2264.5" r="2.5"/><circle cx="196.7" cy="2275.6" r="2.5"/><circle cx="196.7" cy="2286.7" r="2.5"/><circle cx="196.7" cy="2297.8" r="2.5"/><circle cx="196.7" cy="2308.9" r="2.5"/><circle cx="196.7" cy="2320" r="2.5"/><circle cx="196.7" cy="2331.1" r="2.5"/><circle cx="196.7" cy="2342.2" r="2.5"/><circle cx="196.7" cy="2353.3" r="2.5"/><circle cx="196.7" cy="2364.4" r="2.5"/>
<circle cx="210.1" cy="2264.5" r="2.5"/><circle cx="210.1" cy="2275.6" r="2.5"/><circle cx="210.1" cy="2286.7" r="2.5"/><circle cx="210.1" cy="2297.8" r="2.5"/><circle cx="210.1" cy="2308.9" r="2.5"/><circle cx="210.1" cy="2320" r="2.5"/><circle cx="210.1" cy="2331.1" r="2.5"/><circle cx="210.1" cy="2342.2" r="2.5"/><circle cx="210.1" cy="2353.3" r="2.5"/><circle cx="210.1" cy="2364.4" r="2.5"/>
</g></g>
<line x1="149.5" y1="2259" x2="149.5" y2="2372" stroke="#888" stroke-dasharray="1.5,1.5"/>

<!-- party logos senate -->
<circle cx="300" cy="2302" r="24.5" fill="none" stroke="#0041c8" stroke-width="6"/>
<text x="300" y="2313" font-family="Liberation Sans,sans-serif" font-weight="bold" font-size="31" fill="#0041c8" text-anchor="middle">D</text>
<text x="399" y="2321" font-family="Liberation Sans,sans-serif" font-weight="bold" font-size="56" fill="#cacaca" text-anchor="middle">?</text>
<rect x="452" y="2280" width="101" height="44" fill="#e1002b"/>
<text x="497" y="2313" font-family="Liberation Sans,sans-serif" font-weight="bold" font-size="29" fill="#fff" text-anchor="middle">GOP</text>
<circle cx="537" cy="2309" r="3" fill="#fff"/>

<!-- map 3 senate -->
<g transform="translate(0,2480) scale(0.3827)" stroke="#fff" stroke-width="2">
<g fill="#8f8f8c"><use xlink:href="#WA"/><use xlink:href="#OR"/><use xlink:href="#CA"/><use xlink:href="#NV"/><use xlink:href="#MT"/><use xlink:href="#ND"/><use xlink:href="#SD"/><use xlink:href="#WY"/><use xlink:href="#UT"/><use xlink:href="#NE"/><use xlink:href="#MN"/><use xlink:href="#WI"/><use xlink:href="#MI"/><use xlink:href="#OH"/><use xlink:href="#PA"/><use xlink:href="#NY"/><use xlink:href="#NJ"/><use xlink:href="#VA"/><use xlink:href="#MO"/><use xlink:href="#AZ"/><use xlink:href="#NM"/><use xlink:href="#TX"/><use xlink:href="#MS"/><use xlink:href="#ME"/><use xlink:href="#MD"/></g>
<g fill="#c6c6c6"><use xlink:href="#ID"/><use xlink:href="#CO"/><use xlink:href="#KS"/><use xlink:href="#OK"/><use xlink:href="#AR"/><use xlink:href="#LA"/><use xlink:href="#IA"/><use xlink:href="#IL"/><use xlink:href="#KY"/><use xlink:href="#NC"/><use xlink:href="#SC"/><use xlink:href="#GA"/><use xlink:href="#AL"/><use xlink:href="#AK"/><use xlink:href="#NH"/><use xlink:href="#HI"/></g>
<g fill="#b01d24"><use xlink:href="#IN"/><use xlink:href="#WV"/><use xlink:href="#TN"/><use xlink:href="#FL"/></g>
<g fill="#0043c8"><use xlink:href="#MA"/><use xlink:href="#CT"/></g>
<use xlink:href="#VT" fill="#7a76b8"/>
<rect x="730" y="560" width="52" height="52" fill="none" stroke="#ddd" stroke-width="2"/>
<use xlink:href="#lines"/>
<circle cx="1300" cy="545" r="18" fill="#0043c8"/><circle cx="1300" cy="592" r="18" fill="#8f8f8c"/><circle cx="1300" cy="641" r="18" fill="#8f8f8c"/>
<use xlink:href="#lbl"/>
<g font-family="Liberation Sans,sans-serif" font-size="15" font-weight="bold" fill="#fff" stroke="none" text-anchor="middle" dominant-baseline="central"><text x="1300" y="545">RI</text><text x="1300" y="592">DE</text><text x="1300" y="641">MD</text><text x="757" y="587">NE2</text></g>
</g>

<!-- map 4 -->
<g transform="translate(0,2885.9) scale(0.3827)" stroke="#fff" stroke-width="1.5">
<g fill="#5b8ef8"><use xlink:href="#ID"/><use xlink:href="#WY"/><use xlink:href="#UT"/><use xlink:href="#ND"/><use xlink:href="#SD"/><use xlink:href="#NE"/><use xlink:href="#KS"/><use xlink:href="#OK"/><use xlink:href="#TX"/><use xlink:href="#MS"/><use xlink:href="#AL"/><use xlink:href="#SC"/><use xlink:href="#AK"/></g>
<g fill="#4d82f0"><use xlink:href="#MT"/><use xlink:href="#IN"/><use xlink:href="#NC"/></g>
<g fill="#3f76e6"><use xlink:href="#AZ"/><use xlink:href="#GA"/></g>
<g fill="#336bdc"><use xlink:href="#MO"/><use xlink:href="#AR"/><use xlink:href="#LA"/><use xlink:href="#KY"/><use xlink:href="#TN"/><use xlink:href="#WV"/></g>
<g fill="#2a5fd2"><use xlink:href="#OH"/><use xlink:href="#FL"/><use xlink:href="#VA"/></g>
<g fill="#0044c5"><use xlink:href="#CO"/><use xlink:href="#IA"/></g>
<g fill="#0a3599"><use xlink:href="#NV"/></g>
<g fill="#062a7a"><use xlink:href="#NM"/><use xlink:href="#WI"/><use xlink:href="#MI"/><use xlink:href="#PA"/><use xlink:href="#NH"/></g>
<g fill="#041d56"><use xlink:href="#WA"/><use xlink:href="#OR"/><use xlink:href="#CA"/><use xlink:href="#MN"/><use xlink:href="#IL"/><use xlink:href="#NY"/><use xlink:href="#NJ"/><use xlink:href="#VT"/><use xlink:href="#ME"/><use xlink:href="#MA"/><use xlink:href="#CT"/><use xlink:href="#MD"/><use xlink:href="#HI"/></g>
<use xlink:href="#lines"/>
<g fill="#041d56"><circle cx="1300" cy="545" r="18"/><circle cx="1300" cy="592" r="18"/><circle cx="1300" cy="641" r="18"/><circle cx="1300" cy="688" r="18"/></g>
<use xlink:href="#lbl"/>
<g font-family="Liberation Sans,sans-serif" font-size="15" font-weight="bold" fill="#fff" stroke="none" text-anchor="middle" dominant-baseline="central"><text x="1300" y="545">RI</text><text x="1300" y="592">DE</text><text x="1300" y="641">MD</text><text x="1300" y="688">DC</text></g>
</g>

<!-- pagination -->
<circle cx="264" cy="3348" r="4.5" fill="#0c5ba6"/>
<g fill="#ddd"><circle cx="275" cy="3348" r="1.7"/><circle cx="283" cy="3348" r="1.7"/><circle cx="291" cy="3348" r="1.7"/><circle cx="299" cy="3348" r="1.7"/><circle cx="307" cy="3348" r="1.7"/><circle cx="315" cy="3348" r="1.7"/><circle cx="323" cy="3348" r="1.7"/><circle cx="331" cy="3348" r="1.7"/><circle cx="338" cy="3348" r="1.7"/></g>
</svg>
</body></html>
